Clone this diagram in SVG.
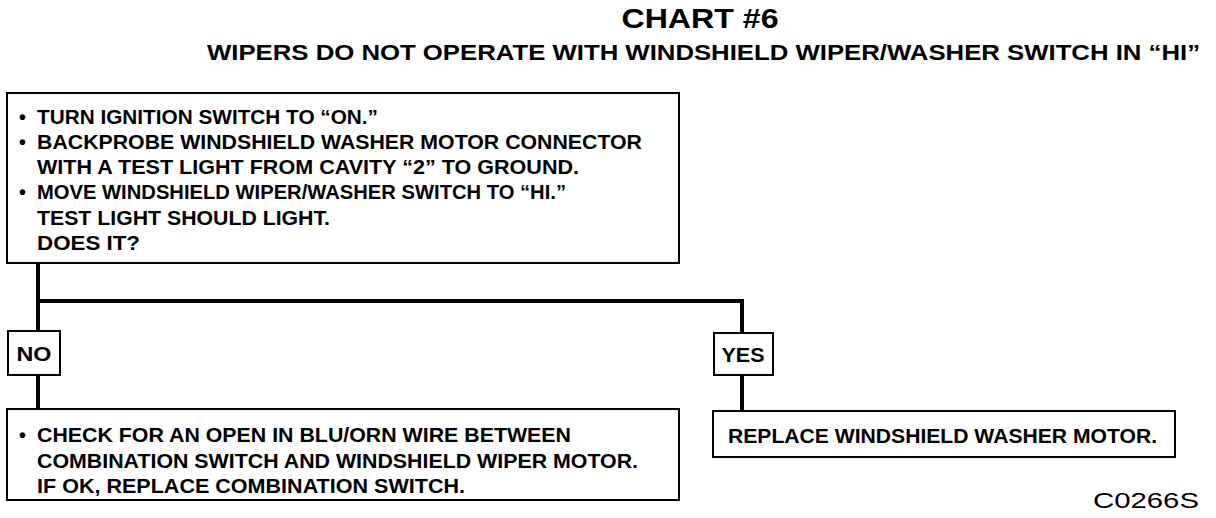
<svg xmlns="http://www.w3.org/2000/svg" width="1216" height="518" viewBox="0 0 1216 518">
<style>
text{font-family:"Liberation Sans",Arial,sans-serif;font-weight:bold;fill:#000}
.box{fill:#fff;stroke:#000;stroke-width:2}
.t{font-size:19.5px}
.c{stroke:#000;stroke-width:4;fill:none}
</style>
<rect width="1216" height="518" fill="#fff"/>
<text x="700" y="28" font-size="28" text-anchor="middle" textLength="157" lengthAdjust="spacingAndGlyphs">CHART #6</text>
<text x="207" y="60" font-size="22" textLength="993" lengthAdjust="spacingAndGlyphs">WIPERS DO NOT OPERATE WITH WINDSHIELD WIPER/WASHER SWITCH IN “HI”</text>
<g id="connectors">
<polyline class="c" points="38,263 38,301 742,301 742,333"/>
<line class="c" x1="38" y1="301" x2="38" y2="331"/>
<line class="c" x1="38" y1="375" x2="38" y2="409"/>
<line class="c" x1="742" y1="375" x2="742" y2="411"/>
</g>
<g id="start">
<rect class="box" x="7" y="93" width="672" height="170"/>
<text class="t" x="19" y="124">•</text>
<text class="t" x="37" y="124" textLength="341" lengthAdjust="spacingAndGlyphs">TURN IGNITION SWITCH TO “ON.”</text>
<text class="t" x="19" y="149">•</text>
<text class="t" x="37" y="149" textLength="605" lengthAdjust="spacingAndGlyphs">BACKPROBE WINDSHIELD WASHER MOTOR CONNECTOR</text>
<text class="t" x="37" y="174" textLength="542" lengthAdjust="spacingAndGlyphs">WITH A TEST LIGHT FROM CAVITY “2” TO GROUND.</text>
<text class="t" x="19" y="199">•</text>
<text class="t" x="37" y="199" textLength="529" lengthAdjust="spacingAndGlyphs">MOVE WINDSHIELD WIPER/WASHER SWITCH TO “HI.”</text>
<text class="t" x="37" y="225" textLength="293" lengthAdjust="spacingAndGlyphs">TEST LIGHT SHOULD LIGHT.</text>
<text class="t" x="37" y="250" textLength="103" lengthAdjust="spacingAndGlyphs">DOES IT?</text>
</g>
<g id="no">
<rect class="box" x="8" y="331" width="52" height="44"/>
<text class="t" x="34" y="361" text-anchor="middle" textLength="35" lengthAdjust="spacingAndGlyphs">NO</text>
</g>
<g id="yes">
<rect class="box" x="714" y="333" width="59" height="42"/>
<text class="t" x="743" y="362" text-anchor="middle" textLength="43" lengthAdjust="spacingAndGlyphs">YES</text>
</g>
<g id="check">
<rect class="box" x="7" y="409" width="672" height="91"/>
<text class="t" x="19" y="442">•</text>
<text class="t" x="37" y="442" textLength="534" lengthAdjust="spacingAndGlyphs">CHECK FOR AN OPEN IN BLU/ORN WIRE BETWEEN</text>
<text class="t" x="37" y="468" textLength="601" lengthAdjust="spacingAndGlyphs">COMBINATION SWITCH AND WINDSHIELD WIPER MOTOR.</text>
<text class="t" x="37" y="493" textLength="428" lengthAdjust="spacingAndGlyphs">IF OK, REPLACE COMBINATION SWITCH.</text>
</g>
<g id="replace">
<rect class="box" x="713" y="411" width="462" height="46"/>
<text class="t" x="728" y="443" textLength="429" lengthAdjust="spacingAndGlyphs">REPLACE WINDSHIELD WASHER MOTOR.</text>
</g>
<text x="1093" y="508" font-size="22" style="font-weight:normal" textLength="106" lengthAdjust="spacingAndGlyphs">C0266S</text>
</svg>
